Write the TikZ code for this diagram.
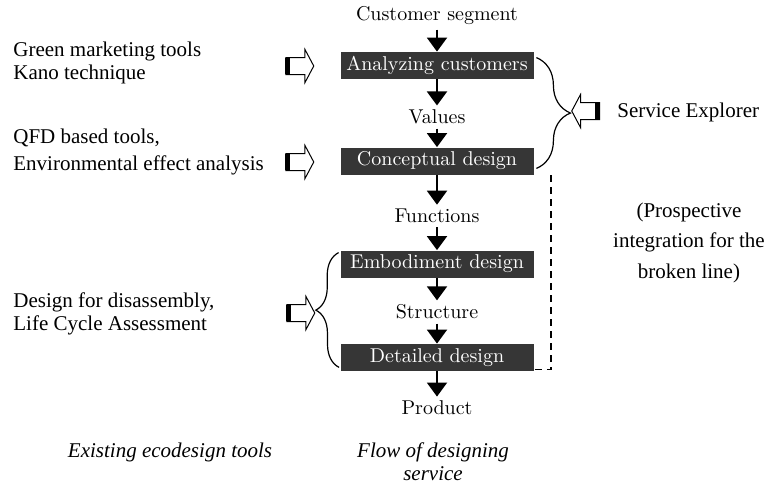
\documentclass[tikz,border=0pt]{standalone}
\usepackage{fontspec}
\newfontfamily\timesfont{Liberation Serif}
\usetikzlibrary{arrows.meta,positioning,calc,shapes.arrows,decorations.pathreplacing}
\definecolor{boxgrey}{HTML}{363636}
\tikzset{
  stage/.style    = {fill=boxgrey, text=white, minimum width=96.5pt, minimum height=13.5pt,
                     inner sep=0pt, font=\fontsize{10}{12}\selectfont},
  flowlbl/.style  = {inner sep=2pt, font=\fontsize{10}{12}\selectfont},
  flow/.style     = {-{Triangle[length=7pt,width=10pt]}, line width=1pt},
  tool/.style     = {align=left, inner sep=0pt, font=\timesfont\fontsize{10.5}{11.5}\selectfont},
  note/.style     = {align=center, inner sep=0pt, font=\timesfont\fontsize{10.5}{15.25}\selectfont},
  caption/.style  = {align=center, inner sep=0pt, font=\timesfont\itshape\fontsize{10.5}{11.5}\selectfont},
  hollow/.style   = {single arrow, draw, line width=0.5pt, minimum height=14pt, inner xsep=0pt,
                     inner ysep=4pt, single arrow head extend=4pt, single arrow tip angle=124},
  grp/.style      = {decorate, decoration={brace, amplitude=#1}, line width=0.6pt},
  dashline/.style = {dash pattern=on 3.5pt off 2.5pt, line width=0.7pt},
}

\begin{document}
\begin{tikzpicture}[x=0.5pt, y=-0.5pt]
  \useasboundingbox (0,0) rectangle (766,484);
  % flow of designing service
  \node[flowlbl] (seg)  at (437,16)    {Customer segment};
  \node[stage]   (ana)  at (437,65.5)  {Analyzing customers};
  \node[flowlbl] (val)  at (437,117)   {Values};
  \node[stage]   (con)  at (437,161)   {Conceptual design};
  \node[flowlbl] (fun)  at (437,216)   {Functions};
  \node[stage]   (emb)  at (437,264)   {Embodiment design};
  \node[flowlbl] (str)  at (437,312)   {Structure};
  \node[stage]   (det)  at (437,357.5) {Detailed design};
  \node[flowlbl] (prod) at (437,408)   {Product};
  \foreach \a/\b in {seg/ana,ana/val,val/con,con/fun,fun/emb,emb/str,str/det,det/prod}
    \draw[flow] (\a) -- (\b);

  % existing ecodesign tools
  \node[hollow] (tmkt) at (297.5,66)  {};
  \node[hollow] (tqfd) at (297.5,162) {};
  \node[hollow] (tdfd) at (298.5,313) {};
  \foreach \a in {tmkt,tqfd,tdfd}
    \fill ($(\a.tail)+(0pt,-4pt)$) rectangle ++(2.5pt,8pt);
  \node[tool, anchor=west] (kano) at (13,63)    {Green marketing tools\\Kano technique};
  \node[tool, anchor=west] (qfd)  at (13,151.5) {QFD based tools,\\[2pt]Environmental effect analysis};
  \node[tool, anchor=west] (dfd)  at (13,314)   {Design for disassembly,\\Life Cycle Assessment};
  \draw[grp=11.5pt] ($(det.south west)+(-1,-4)$) -- ($(emb.north west)+(-1.5,2.5)$);

  % service explorer
  \draw[grp=17pt] ($(ana.north east)+(2.5,6)$) -- ($(con.south east)+(2.5,-6.5)$);
  \node[hollow, shape border rotate=180] (tsrv) at (588,111) {};
  \fill ($(tsrv.tail)+(-2.5pt,-4pt)$) rectangle ++(2.5pt,8pt);
  \node[tool, anchor=west] (srv) at (617,112) {Service Explorer};
  \coordinate (dtop) at (551,172);
  \draw[dashline] ($(det.south east)+(1,-2)$) -| (dtop);
  \node[note] (prosp) at (689,242.5) {(Prospective\\integration for the\\broken line)};

  % captions
  \node[caption] (exist)   at (170,452) {Existing ecodesign tools};
  \node[caption] (flowcap) at (433,462) {Flow of designing\\service};
\end{tikzpicture}
\end{document}
